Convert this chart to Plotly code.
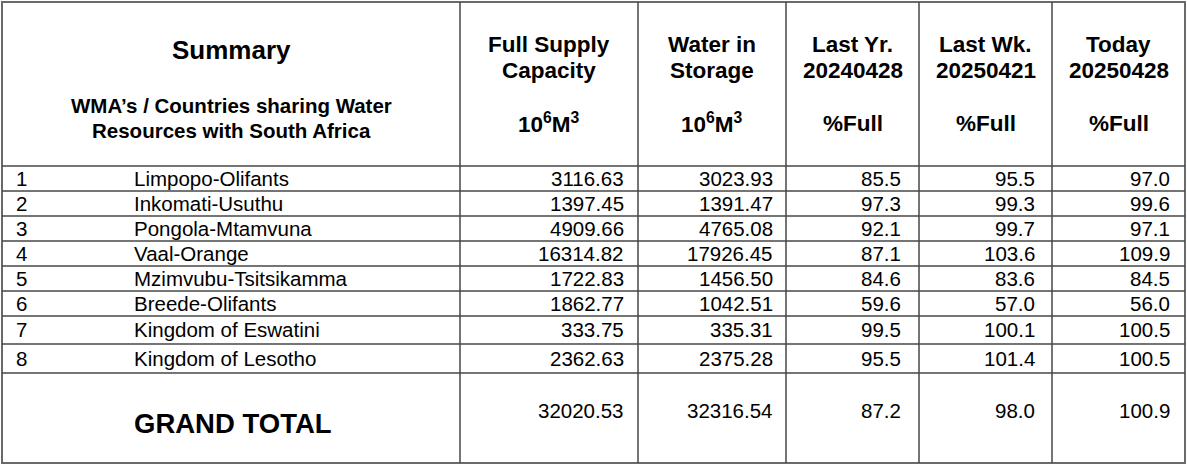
import plotly.graph_objects as go

# Summary of storage per WMA / country
wma_ids = [1, 2, 3, 4, 5, 6, 7, 8]
wma_names = ["Limpopo-Olifants", "Inkomati-Usuthu", "Pongola-Mtamvuna", "Vaal-Orange",
             "Mzimvubu-Tsitsikamma", "Breede-Olifants", "Kingdom of Eswatini",
             "Kingdom of Lesotho"]
full_supply = [3116.63, 1397.45, 4909.66, 16314.82, 1722.83, 1862.77, 333.75, 2362.63]
water_storage = [3023.93, 1391.47, 4765.08, 17926.45, 1456.50, 1042.51, 335.31, 2375.28]
pct_last_year = [85.5, 97.3, 92.1, 87.1, 84.6, 59.6, 99.5, 95.5]
pct_last_week = [95.5, 99.3, 99.7, 103.6, 83.6, 57.0, 100.1, 101.4]
pct_today = [97.0, 99.6, 97.1, 109.9, 84.5, 56.0, 100.5, 100.5]
grand_total = [32020.53, 32316.54, 87.2, 98.0, 100.9]

col_titles = [["Full Supply", "Capacity"], ["Water in", "Storage"],
              ["Last Yr.", "20240428"], ["Last Wk.", "20250421"], ["Today", "20250428"]]
col_units = ["10<sup>6</sup>M<sup>3</sup>", "10<sup>6</sup>M<sup>3</sup>", "%Full", "%Full", "%Full"]

# table geometry (pixels)
W, H = 1187, 467
left, right, top, bottom = 2, 1185, 2, 463
bounds = [460, 638, 786, 919, 1052, 1185]   # value column boundaries
row_edges = [166, 191, 216, 241, 266, 291, 316, 344, 373]
pads = [12, 11, 16, 15, 13]

FONT = "Liberation Sans, Arial, sans-serif"
LINE = "#474747"

fig = go.Figure()
shapes = []
annotations = []


def txt(x, y, s, size, bold=False, xanchor="left"):
    annotations.append(dict(
        x=x, y=y, xref="x", yref="y", text="<b>" + s + "</b>" if bold else s,
        showarrow=False, xanchor=xanchor, yanchor="middle",
        font=dict(family=FONT, size=size, color="black"),
    ))


def hline(y, x0=left, x1=right):
    shapes.append(dict(type="line", xref="x", yref="y", x0=x0, x1=x1, y0=y, y1=y,
                       line=dict(color=LINE, width=1.5)))


def vline(x, y0=top, y1=bottom):
    shapes.append(dict(type="line", xref="x", yref="y", x0=x, x1=x, y0=y0, y1=y1,
                       line=dict(color=LINE, width=1.5)))


# outer border and grid
shapes.append(dict(type="rect", xref="x", yref="y", x0=left, x1=right, y0=top, y1=bottom,
                   line=dict(color="#6a6a6a", width=2)))
for r in row_edges:
    hline(r)
for c in bounds[:-1]:
    vline(c)

# header
txt(231, 50, "Summary", 26, bold=True, xanchor="center")
txt(231, 105, "WMA’s / Countries sharing Water", 20.5, bold=True, xanchor="center")
txt(231, 130, "Resources with South Africa", 20.5, bold=True, xanchor="center")
for i in range(5):
    cx = (bounds[i] + bounds[i + 1]) / 2
    txt(cx, 44, col_titles[i][0], 22.5, bold=True, xanchor="center")
    txt(cx, 70, col_titles[i][1], 22.5, bold=True, xanchor="center")
    txt(cx, 123, col_units[i], 22.5, bold=True, xanchor="center")

# body rows
for k in range(len(wma_ids)):
    cy = (row_edges[k] + row_edges[k + 1]) / 2 - 0.5
    txt(14, cy, str(wma_ids[k]), 20.5)
    txt(132, cy, wma_names[k], 20.5)
    vals = ["%.2f" % full_supply[k], "%.2f" % water_storage[k], "%.1f" % pct_last_year[k],
            "%.1f" % pct_last_week[k], "%.1f" % pct_today[k]]
    for i, v in enumerate(vals):
        txt(bounds[i + 1] - pads[i], cy, v, 20.5, xanchor="right")

# grand total row
txt(132, 423, "GRAND TOTAL", 27.5, bold=True)
tot = ["%.2f" % grand_total[0], "%.2f" % grand_total[1]] + ["%.1f" % v for v in grand_total[2:]]
for i, v in enumerate(tot):
    txt(bounds[i + 1] - pads[i], 410, v, 20.5, xanchor="right")

fig.update_layout(
    width=W, height=H,
    margin=dict(l=0, r=0, t=0, b=0),
    paper_bgcolor="white", plot_bgcolor="white",
    xaxis=dict(range=[0, W], visible=False, fixedrange=True),
    yaxis=dict(range=[H, 0], visible=False, fixedrange=True),
    shapes=shapes,
    annotations=annotations,
    showlegend=False,
)

fig.write_html("out.html", config={"displayModeBar": False},
               post_script="document.body.style.margin='0';")
